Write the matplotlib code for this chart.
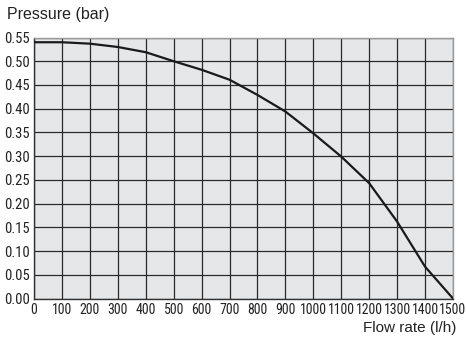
import matplotlib.pyplot as plt
from matplotlib import font_manager

flow = [0, 100, 200, 300, 400, 500, 600, 700, 800, 900, 1000, 1100, 1200, 1300, 1400, 1500]
pressure = [0.540, 0.540, 0.537, 0.530, 0.519, 0.500, 0.482, 0.461, 0.429, 0.394,
            0.348, 0.299, 0.243, 0.162, 0.067, 0.0]
x_ticks = list(range(0, 1501, 100))
y_ticks = [i * 0.05 for i in range(12)]

names = {f.name for f in font_manager.fontManager.ttflist}
narrow = 'Liberation Sans'
for cand in ['Liberation Sans Narrow', 'Roboto Condensed', 'Archivo Narrow']:
    if cand in names:
        narrow = cand
        break

fig = plt.figure(figsize=(4.66, 3.47), dpi=100)
ax = fig.add_axes([34 / 466, 48.5 / 347, 419 / 466, 261 / 347])
ax.set_facecolor('#e6e7e9')

ax.plot(flow, pressure, color='#1a1a1a', linewidth=1.6, zorder=3)

ax.set_xlim(0, 1500)
ax.set_ylim(0, 0.55)
ax.set_xticks(x_ticks)
ax.set_yticks(y_ticks)
ax.set_xticklabels([str(v) for v in x_ticks], fontfamily=narrow, fontsize=10)
ax.set_yticklabels([f"{v:.2f}" for v in y_ticks], fontfamily=narrow, fontsize=10.5)
ax.tick_params(length=0, pad=3, colors='#222222')
ax.grid(True, color='#2a2a2a', linewidth=0.9)
ax.set_axisbelow(True)

for side in ['left', 'bottom']:
    ax.spines[side].set_color('#333333')
    ax.spines[side].set_linewidth(1.0)
for side in ['top', 'right']:
    ax.spines[side].set_color('#9a9a9a')
    ax.spines[side].set_linewidth(1.0)

fig.text(7 / 466, 1 - 15 / 347, 'Pressure (bar)', fontfamily='Liberation Sans',
         fontsize=11.5, va='center', ha='left', color='#222222')
fig.text(456 / 466, 1 - 328 / 347, 'Flow rate (l/h)', fontfamily='Liberation Sans',
         fontsize=11, va='center', ha='right', color='#222222')

fig.savefig('out.png', dpi=100)
